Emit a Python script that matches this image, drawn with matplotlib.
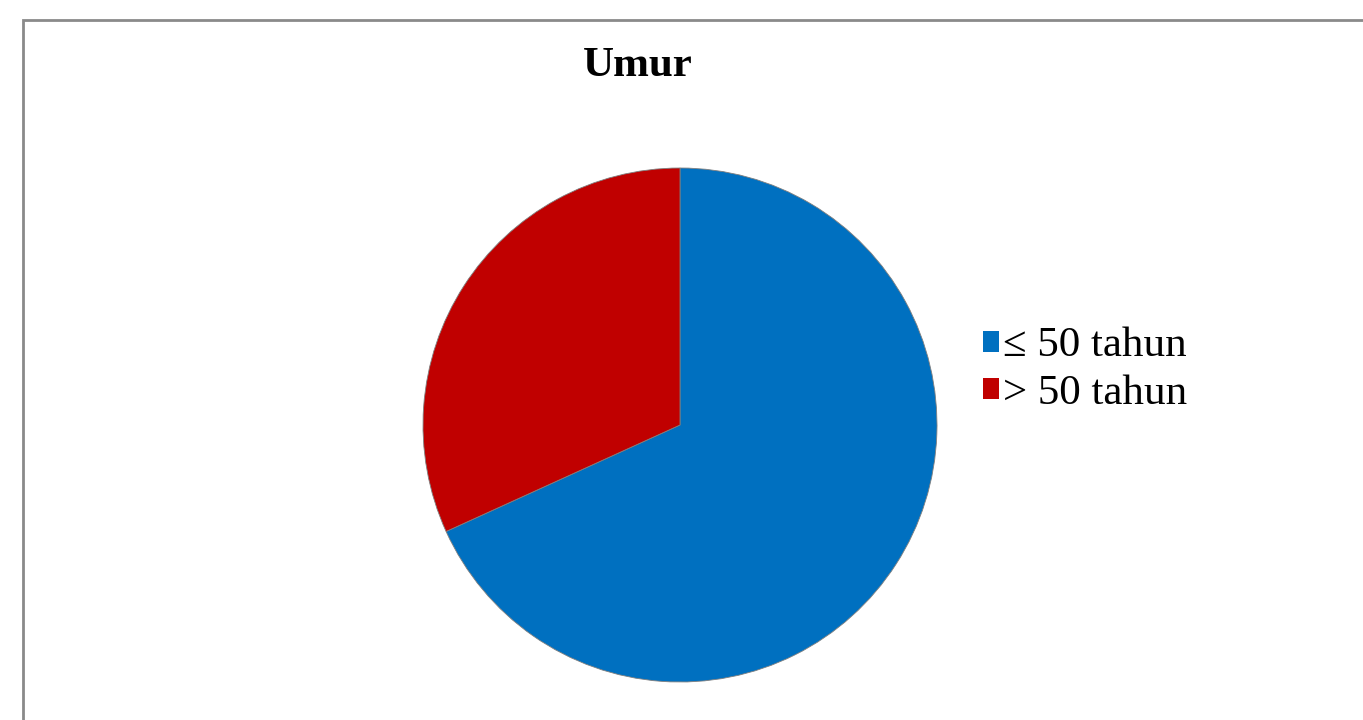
import matplotlib.pyplot as plt
from matplotlib.patches import Rectangle, Patch

# Age groups and their shares
categories = ["\u2264 50 tahun", "> 50 tahun"]
shares = [68.2, 31.8]
colors = ["#0070C0", "#C00000"]
title = "Umur"

W, H = 1363, 720
fig = plt.figure(figsize=(W / 100, H / 100), dpi=100)
fig.patch.set_facecolor("white")

# Chart border (right and bottom edges run off the canvas)
fig.patches.append(Rectangle((23 / W, -0.1), 1.2, (720 - 20) / H + 0.1,
                             transform=fig.transFigure, fill=False,
                             edgecolor="#8a8a8a", linewidth=2))

# Pie area: center (680, 425) px, radius 257 px
cx, cy, r = 680, 425, 257
ax = fig.add_axes([(cx - r) / W, (H - cy - r) / H, 2 * r / W, 2 * r / H])
ax.pie(shares, colors=colors, startangle=90, counterclock=False,
       wedgeprops=dict(edgecolor="#7f7f7f", linewidth=0.6))
ax.set_xlim(-1, 1)
ax.set_ylim(-1, 1)
ax.set_aspect("auto")
ax.axis("off")

fig.text(638 / W, 1 - 66 / H, title, ha="center", va="center",
         fontsize=31, fontweight="bold", family="Liberation Serif")

handles = [Patch(facecolor=c, edgecolor="none") for c in colors]
fig.legend(handles, categories, loc="upper left",
           bbox_to_anchor=(983 / W, 1 - 327 / H), frameon=False,
           prop=dict(family="Liberation Serif", size=31),
           handlelength=0.37, handleheight=0.37, handletextpad=0.1,
           borderpad=0, borderaxespad=0, labelspacing=0.2)

fig.savefig("out.png", dpi=100, facecolor="white")
